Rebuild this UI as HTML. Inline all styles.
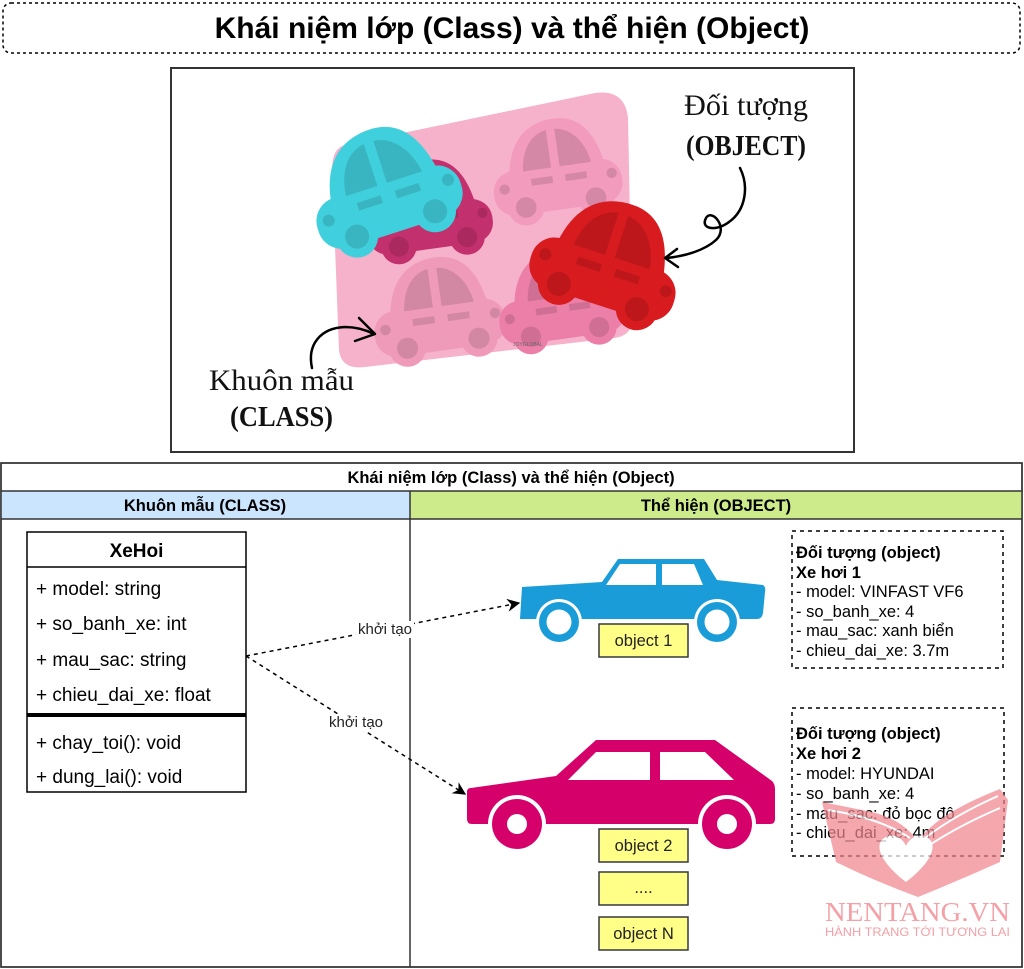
<!DOCTYPE html>
<html><head><meta charset="utf-8"><style>
html,body{margin:0;padding:0;background:#fff;}
svg{display:block;}
text{font-family:"Liberation Sans","Noto Sans CJK SC",sans-serif;}
.serif{font-family:"Liberation Serif","DejaVu Serif",serif;}
</style></head><body>
<svg width="1024" height="969" viewBox="0 0 1024 969" xmlns="http://www.w3.org/2000/svg">
<defs>
  <g id="toycar">
    <rect x="-75" y="-8" width="150" height="52" rx="24"/>
    <path d="M-55 2 C-50 -45 -25 -62 5 -62 C35 -62 52 -40 58 2 Z"/>
    <circle cx="-40" cy="36" r="21"/>
    <circle cx="42" cy="36" r="21"/>
    <g fill="#000" fill-opacity="0.12">
      <path d="M-38 -6 C-35 -35 -20 -48 -5 -50 L-5 -6 Z"/>
      <path d="M5 -50 C25 -48 38 -30 42 -6 L5 -6 Z"/>
      <rect x="-30" y="4" width="25" height="8"/>
      <rect x="10" y="4" width="25" height="8"/>
      <circle cx="-40" cy="36" r="12"/>
      <circle cx="42" cy="36" r="12"/>
      <circle cx="-62" cy="12" r="6"/>
      <circle cx="64" cy="10" r="6"/>
    </g>
  </g>
  <marker id="arr" viewBox="0 0 10 10" refX="9" refY="5" markerWidth="13" markerHeight="13" orient="auto" markerUnits="userSpaceOnUse">
    <path d="M0 0 L10 5 L0 10 L3 5 Z" fill="#000"/>
  </marker>
</defs>

<!-- Title -->
<rect x="3" y="3" width="1017" height="50" rx="8" fill="#fff" stroke="#000" stroke-width="1.5" stroke-dasharray="3 3"/>
<text x="512" y="38" font-size="30" font-weight="bold" text-anchor="middle" fill="#000">Khái niệm lớp (Class) và thể hiện (Object)</text>

<!-- Photo frame -->
<rect x="171" y="68" width="683" height="384" fill="#fff" stroke="#333" stroke-width="2"/>
<!-- mold -->
<path d="M345 145 L595 93 Q625 89 628 118 L632 318 Q633 335 615 338 L365 367 Q341 370 339 350 L332 170 Q332 148 345 145 Z" fill="#f6b2ca"/>
<!-- cavities -->
<g transform="translate(556,172) rotate(-8) scale(0.86)" fill="#f29bbc"><use href="#toycar"/></g>
<g transform="translate(438,312) rotate(-8) scale(0.88)" fill="#f09ab9"><use href="#toycar"/></g>
<g transform="translate(560,302) rotate(-8) scale(0.84)" fill="#ec7fa8"><use href="#toycar"/></g>
<g transform="translate(428,212) rotate(-8) scale(0.84)" fill="#c2306d"><use href="#toycar"/></g>
<!-- cyan car -->
<g transform="translate(384,190) rotate(-18)" fill="#40cfdc"><use href="#toycar"/></g>
<!-- red car -->
<g transform="translate(608,262) rotate(18)" fill="#d81b1f"><use href="#toycar"/></g>
<text x="513" y="346" font-size="5" fill="#666">JOYGLOBAL</text>
<!-- photo labels -->
<text class="serif" x="684" y="115" font-size="30" textLength="124" lengthAdjust="spacingAndGlyphs" fill="#111">Đối tượng</text>
<text class="serif" x="686" y="155" font-size="28" font-weight="bold" textLength="120" lengthAdjust="spacingAndGlyphs" fill="#111">(OBJECT)</text>
<text class="serif" x="209" y="390" font-size="30" textLength="145" lengthAdjust="spacingAndGlyphs" fill="#111">Khuôn mẫu</text>
<text class="serif" x="230" y="426" font-size="28" font-weight="bold" textLength="103" lengthAdjust="spacingAndGlyphs" fill="#111">(CLASS)</text>
<!-- curly arrows -->
<g fill="none" stroke="#000" stroke-width="2.5" stroke-linecap="round" stroke-linejoin="round">
  <path d="M740 168 C749 186 746 210 729 222 C716 232 700 229 706 218 C712 208 729 228 716 240 C705 250 686 256 667 258"/>
  <polyline points="677,249 665,258 678,267"/>
  <path d="M312 368 C307 345 320 328 345 327 C356 327 366 330 374 334"/>
  <polyline points="359,318 375,334 355,341"/>
</g>

<!-- Table -->
<rect x="1" y="463" width="1021" height="504" fill="#fff" stroke="#333" stroke-width="1.5"/>
<rect x="1" y="491" width="409" height="28" fill="#cce5ff"/>
<rect x="410" y="491" width="612" height="28" fill="#cdeb8b"/>
<g stroke="#333" stroke-width="1.5">
  <line x1="1" y1="491" x2="1022" y2="491"/>
  <line x1="1" y1="519" x2="1022" y2="519"/>
  <line x1="410" y1="491" x2="410" y2="967"/>
</g>
<rect x="1" y="463" width="1021" height="504" fill="none" stroke="#333" stroke-width="1.5"/>
<text x="511" y="483" font-size="16.5" font-weight="bold" text-anchor="middle">Khái niệm lớp (Class) và thể hiện (Object)</text>
<text x="205" y="511" font-size="16.5" font-weight="bold" text-anchor="middle">Khuôn mẫu (CLASS)</text>
<text x="716" y="511" font-size="16.5" font-weight="bold" text-anchor="middle">Thể hiện (OBJECT)</text>

<!-- Class box -->
<rect x="27" y="532" width="219" height="260" fill="#fff" stroke="#000" stroke-width="1.5"/>
<line x1="27" y1="567" x2="246" y2="567" stroke="#000" stroke-width="1.5"/>
<line x1="27" y1="715" x2="246" y2="715" stroke="#000" stroke-width="4"/>
<text x="136.5" y="557" font-size="19" font-weight="bold" text-anchor="middle">XeHoi</text>
<g font-size="19" fill="#000">
  <text x="36" y="595">+ model: string</text>
  <text x="36" y="630">+ so_banh_xe: int</text>
  <text x="36" y="666">+ mau_sac: string</text>
  <text x="36" y="701">+ chieu_dai_xe: float</text>
  <text x="36" y="749">+ chay_toi(): void</text>
  <text x="36" y="783">+ dung_lai(): void</text>
</g>

<!-- connectors -->
<g fill="none" stroke="#000" stroke-width="1.5" stroke-dasharray="4 4">
  <line x1="246" y1="656" x2="519" y2="603" marker-end="url(#arr)"/>
  <line x1="246" y1="656" x2="465" y2="794" marker-end="url(#arr)"/>
</g>
<rect x="356" y="621" width="58" height="17" fill="#fff"/>
<text x="385" y="634" font-size="15" text-anchor="middle" fill="#222">khởi tạo</text>
<rect x="327" y="714" width="58" height="17" fill="#fff"/>
<text x="356" y="727" font-size="15" text-anchor="middle" fill="#222">khởi tạo</text>

<!-- Blue car -->
<path d="M522 587 L602 582 L618 559 L704 559 L717 580 L763 585 Q766 587 765 592 L763 613 Q762 619 757 619 L520 619 Z" fill="#1a9cd8"/>
<g fill="#fff"><circle cx="559" cy="622" r="23"/><circle cx="717" cy="622" r="23"/></g>
<g fill="#1a9cd8"><circle cx="559" cy="622" r="20"/><circle cx="717" cy="622" r="20"/></g>
<g fill="#fff"><circle cx="559" cy="622" r="12.5"/><circle cx="717" cy="622" r="12.5"/>
  <path d="M606 585 L620 564 L656 564 L656 585 Z"/><path d="M662 564 L694 564 L703 585 L662 585 Z"/></g>

<!-- Magenta car -->
<path d="M467 792 Q467 788 471 788 L556 776 L596 740 L715 740 L772 781 Q775 784 775 789 L775 819 Q775 824 770 824 L472 824 Q467 824 467 819 Z" fill="#d6006b"/>
<g fill="#fff"><circle cx="517" cy="824" r="29"/><circle cx="727" cy="824" r="29"/></g>
<g fill="#d6006b"><circle cx="517" cy="824" r="25"/><circle cx="727" cy="824" r="25"/></g>
<g fill="#fff"><circle cx="517" cy="824" r="10"/><circle cx="727" cy="824" r="10"/>
  <path d="M568 780 L596 752 L650 752 L650 780 Z"/><path d="M660 752 L705 752 L734 780 L660 780 Z"/></g>

<!-- object boxes -->
<g fill="#ffff88" stroke="#36393d" stroke-width="1.5">
  <rect x="599" y="624" width="89" height="33"/>
  <rect x="599" y="829" width="89" height="33"/>
  <rect x="599" y="872" width="89" height="33"/>
  <rect x="599" y="917" width="89" height="33"/>
</g>
<g font-size="16.5" text-anchor="middle" fill="#222">
  <text x="643.5" y="646">object 1</text>
  <text x="643.5" y="851">object 2</text>
  <text x="643.5" y="893">....</text>
  <text x="643.5" y="939">object N</text>
</g>

<!-- Right info boxes -->
<g fill="none" stroke="#000" stroke-width="1.5" stroke-dasharray="4 4">
  <rect x="792" y="531" width="211" height="137"/>
  <rect x="792" y="708" width="212" height="148"/>
</g>
<g font-size="16.5" fill="#000">
  <text x="796" y="558" font-weight="bold">Đối tượng (object)</text>
  <text x="796" y="578" font-weight="bold">Xe hơi 1</text>
  <text x="796" y="597">- model: VINFAST VF6</text>
  <text x="796" y="617">- so_banh_xe: 4</text>
  <text x="796" y="636">- mau_sac: xanh biển</text>
  <text x="796" y="656">- chieu_dai_xe: 3.7m</text>
  <text x="796" y="739" font-weight="bold">Đối tượng (object)</text>
  <text x="796" y="759" font-weight="bold">Xe hơi 2</text>
  <text x="796" y="779">- model: HYUNDAI</text>
  <text x="796" y="799">- so_banh_xe: 4</text>
  <text x="796" y="819">- mau_sac: đỏ bọc đô</text>
  <text x="796" y="838">- chieu_dai_xe: 4m</text>
</g>

<!-- Watermark -->
<g opacity="0.72">
  <path d="M822 802 L872 812 Q904 820 918 842 Q934 815 1000 789 L1008 800 L1000 862 Q960 880 918 897 Q872 880 836 862 Z" fill="#f08790"/>
  <path d="M906 882 C880 862 874 845 884 838 C893 832 903 838 906 846 C909 838 919 832 928 838 C938 845 932 862 906 882 Z" fill="#fff"/>
  <g stroke="#fff" stroke-width="2" fill="none">
    <path d="M925 838 Q955 815 998 796"/>
    <path d="M928 846 Q960 825 1000 808"/>
    <path d="M910 838 Q880 818 828 810"/>
  </g>
</g>
<text class="serif" x="825" y="921" font-size="27" textLength="185" lengthAdjust="spacingAndGlyphs" fill="#f4a0a6">NENTANG.VN</text>
<text x="825" y="936" font-size="12" textLength="185" lengthAdjust="spacingAndGlyphs" fill="#f4a0a6">HÀNH TRANG TỚI TƯƠNG LAI</text>
</svg>
</body></html>
